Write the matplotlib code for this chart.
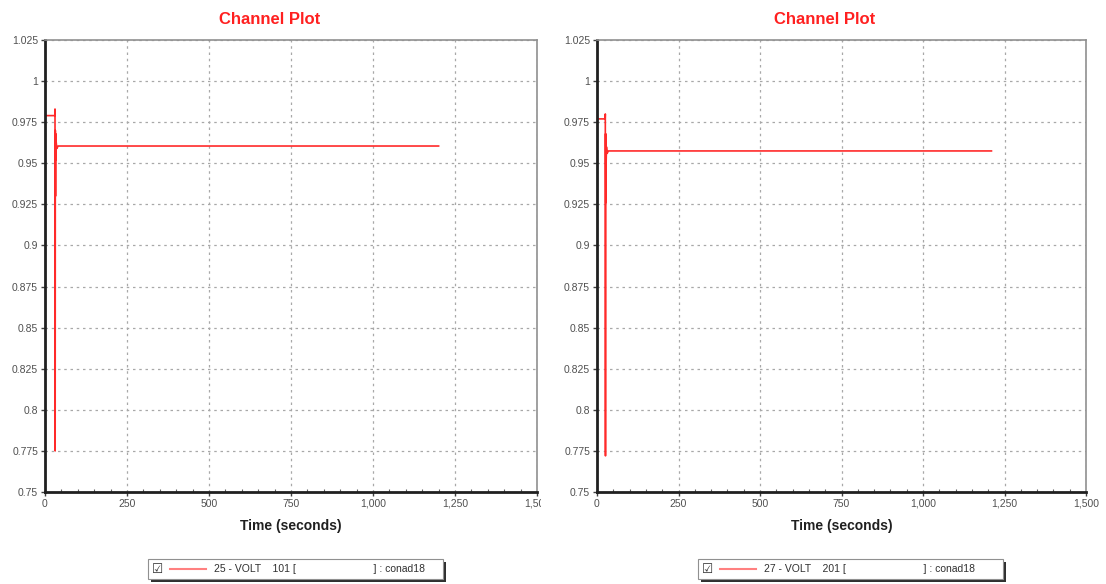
import matplotlib
matplotlib.use('Agg')
import matplotlib.pyplot as plt
from matplotlib.patches import Rectangle
from matplotlib.ticker import MultipleLocator, FuncFormatter

plt.rcParams.update({'font.family': ['Liberation Sans', 'DejaVu Sans'], 'font.size': 7})

# bus voltage (pu) vs time (s)
t_left = [0, 30, 30.5, 31, 31.5, 32, 32.5, 33, 34, 36, 40, 1200]
v_left = [0.979, 0.979, 0.983, 0.775, 0.970, 0.930, 0.968, 0.952, 0.963, 0.959, 0.9605, 0.9605]
t_right = [0, 25, 25.5, 26, 26.5, 27, 27.5, 28, 29, 31, 35, 1210]
v_right = [0.977, 0.977, 0.980, 0.772, 0.968, 0.926, 0.965, 0.950, 0.960, 0.956, 0.9575, 0.9575]
legend_labels = ['25 - VOLT    101 [                           ] : conad18',
                 '27 - VOLT    201 [                           ] : conad18']

RED = '#ff2a2a'
W, H = 1106, 584


def fmt_y(v, _):
    return f'{v:.3f}'.rstrip('0').rstrip('.')


def style(ax):
    ax.set_xlim(0, 1500)
    ax.set_ylim(0.75, 1.025)
    ax.xaxis.set_major_locator(MultipleLocator(250))
    ax.xaxis.set_minor_locator(MultipleLocator(50))
    ax.yaxis.set_major_locator(MultipleLocator(0.025))
    ax.xaxis.set_major_formatter(FuncFormatter(lambda v, _: f'{int(v):,}'))
    ax.yaxis.set_major_formatter(FuncFormatter(fmt_y))
    ax.grid(True, linestyle=(0, (2, 3)), color='#a8a8a8', linewidth=0.9)
    for s in ('left', 'bottom'):
        ax.spines[s].set_linewidth(2.0)
        ax.spines[s].set_color('#202020')
    for s in ('top', 'right'):
        ax.spines[s].set_linewidth(1.2)
        ax.spines[s].set_color('#909090')
    ax.tick_params(which='major', length=3, width=1, color='#404040', labelcolor='#505050', labelsize=7.5, pad=2)
    ax.tick_params(which='minor', length=2, width=0.8, color='#606060', direction='in')
    ax.set_xlabel('Time (seconds)', fontsize=10, fontweight='bold', color='#202020', labelpad=7)


def legend_box(fig, x0, x1, label):
    y0, y1 = 559, 579
    bx = lambda x: x / W
    by = lambda y: 1 - y / H
    fig.patches.append(Rectangle((bx(x0 + 3), by(y1 + 3)), bx(x1 - x0), by(y0) - by(y1),
                                 transform=fig.transFigure, facecolor='#303030', edgecolor='none'))
    fig.patches.append(Rectangle((bx(x0), by(y1)), bx(x1 - x0), by(y0) - by(y1),
                                 transform=fig.transFigure, facecolor='white', edgecolor='#909090', lw=0.8))
    ym = by((y0 + y1) / 2)
    fig.text(bx(x0 + 4), ym, '\u2611', fontsize=9, va='center', ha='left', color='#303030',
             family='DejaVu Sans')
    fig.add_artist(plt.Line2D([bx(x0 + 22), bx(x0 + 58)], [ym, ym], transform=fig.transFigure,
                              color='#ff8080', lw=1.5))
    fig.text(bx(x0 + 66), ym, label, fontsize=7.5, va='center', ha='left', color='#303030')


fig = plt.figure(figsize=(W / 100, H / 100), dpi=100)
ax1 = fig.add_axes([45 / W, 1 - 492 / H, 492 / W, 452 / H])
ax2 = fig.add_axes([597 / W, 1 - 492 / H, 489 / W, 452 / H])

ax1.plot(t_left, v_left, color=RED, lw=1.2)
ax2.plot(t_right, v_right, color=RED, lw=1.2)
for ax in (ax1, ax2):
    style(ax)

# titles sit over the middle of each half of the window
fig.text(270 / W, 1 - 20 / H, 'Channel Plot', fontsize=12, fontweight='bold', color='#ff2020',
         ha='center', va='center')
fig.text(825 / W, 1 - 20 / H, 'Channel Plot', fontsize=12, fontweight='bold', color='#ff2020',
         ha='center', va='center')

# the last x labels are cut off at the edge of each panel
for xa, xb in ((541, 560), (1099, 1106)):
    fig.patches.append(Rectangle((xa / W, 1 - 512 / H), (xb - xa) / W, 18 / H,
                                 transform=fig.transFigure, facecolor='white', edgecolor='none',
                                 zorder=10))

legend_box(fig, 148, 443, legend_labels[0])
legend_box(fig, 698, 1003, legend_labels[1])

fig.savefig('out.png', dpi=100)
